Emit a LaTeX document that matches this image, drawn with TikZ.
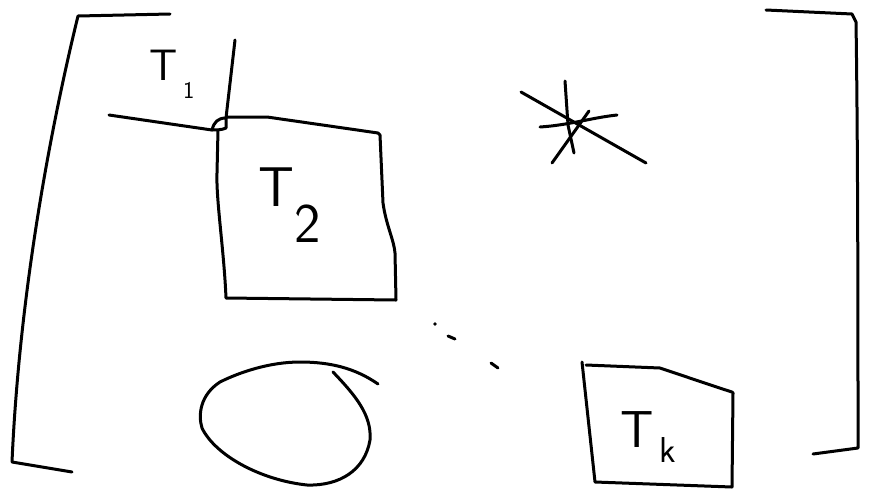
\documentclass[tikz,border=0pt]{standalone}
\begin{document}
\begin{tikzpicture}[x=1pt,y=-1pt,
  stroke/.style={line width=3pt, line cap=round, line join=round, black},
  lbl/.style={inner sep=0pt, font=\sffamily}]
\useasboundingbox[fill=white] (0,0) rectangle (869,493);
% left bracket
\draw[stroke] (170,14) -- (78,16) .. controls (55,110) and (20,280) .. (12,462) -- (72,472);
% right bracket
\draw[stroke] (766,10) -- (852,14) -- (856,22) .. controls (858,150) and (858,350) .. (858,448) -- (813,454);
% T1 lines
\draw[stroke] (109,115) -- (212,130);
\draw[stroke] (235,40) -- (226,118);
\draw[stroke] (212,130) .. controls (214,122) and (218,118) .. (226,118) -- (226,128) .. controls (222,130) and (216,130) .. (212,130);
% T2 box
\draw[stroke] (226,117) -- (267,117) -- (378,133) -- (380,135) -- (383,203) .. controls (386,225) and (394,240) .. (395,253) -- (396,300) -- (226,298) .. controls (224,250) and (216,200) .. (217,173) -- (218,130);
% star
\draw[stroke] (521,92) -- (646,163);
\draw[stroke] (565,81) -- (568,125) -- (574,153);
\draw[stroke] (540,127) .. controls (570,125) and (590,118) .. (617,115);
\draw[stroke] (589,111) -- (552,163);
% dots
\fill (435,324) circle (1.8pt);
\draw[stroke] (448,336) -- (455,339);
\draw[stroke] (491,363) -- (498,368);
% ellipse-like loop
\draw[stroke] (378,384) .. controls (355,368) and (330,362) .. (300,362)
  .. controls (270,362) and (240,372) .. (220,382)
  .. controls (200,395) and (198,415) .. (202,428)
  .. controls (215,455) and (260,480) .. (307,485)
  .. controls (340,486) and (365,470) .. (370,440)
  .. controls (372,415) and (355,395) .. (333,372);
% Tk box
\draw[stroke] (586,365) -- (660,368) .. controls (690,378) and (710,385) .. (732,392) -- (733,393) -- (732,487) -- (595,482) -- (582,362);
% labels
\node[lbl, font=\sffamily\fontsize{44}{44}\selectfont] (t1) at (172,74) {T\hspace{0.12em}\raisebox{-0.4em}{\fontsize{24}{24}\selectfont 1}};
\node[lbl, font=\sffamily\fontsize{56}{56}\selectfont] (t2) at (290,205) {T\raisebox{-0.65em}{2}};
\node[lbl, font=\sffamily\fontsize{52}{52}\selectfont] (tk) at (648,437) {T\hspace{0.1em}\raisebox{-0.3em}{\fontsize{36}{36}\selectfont k}};
\end{tikzpicture}
\end{document}
